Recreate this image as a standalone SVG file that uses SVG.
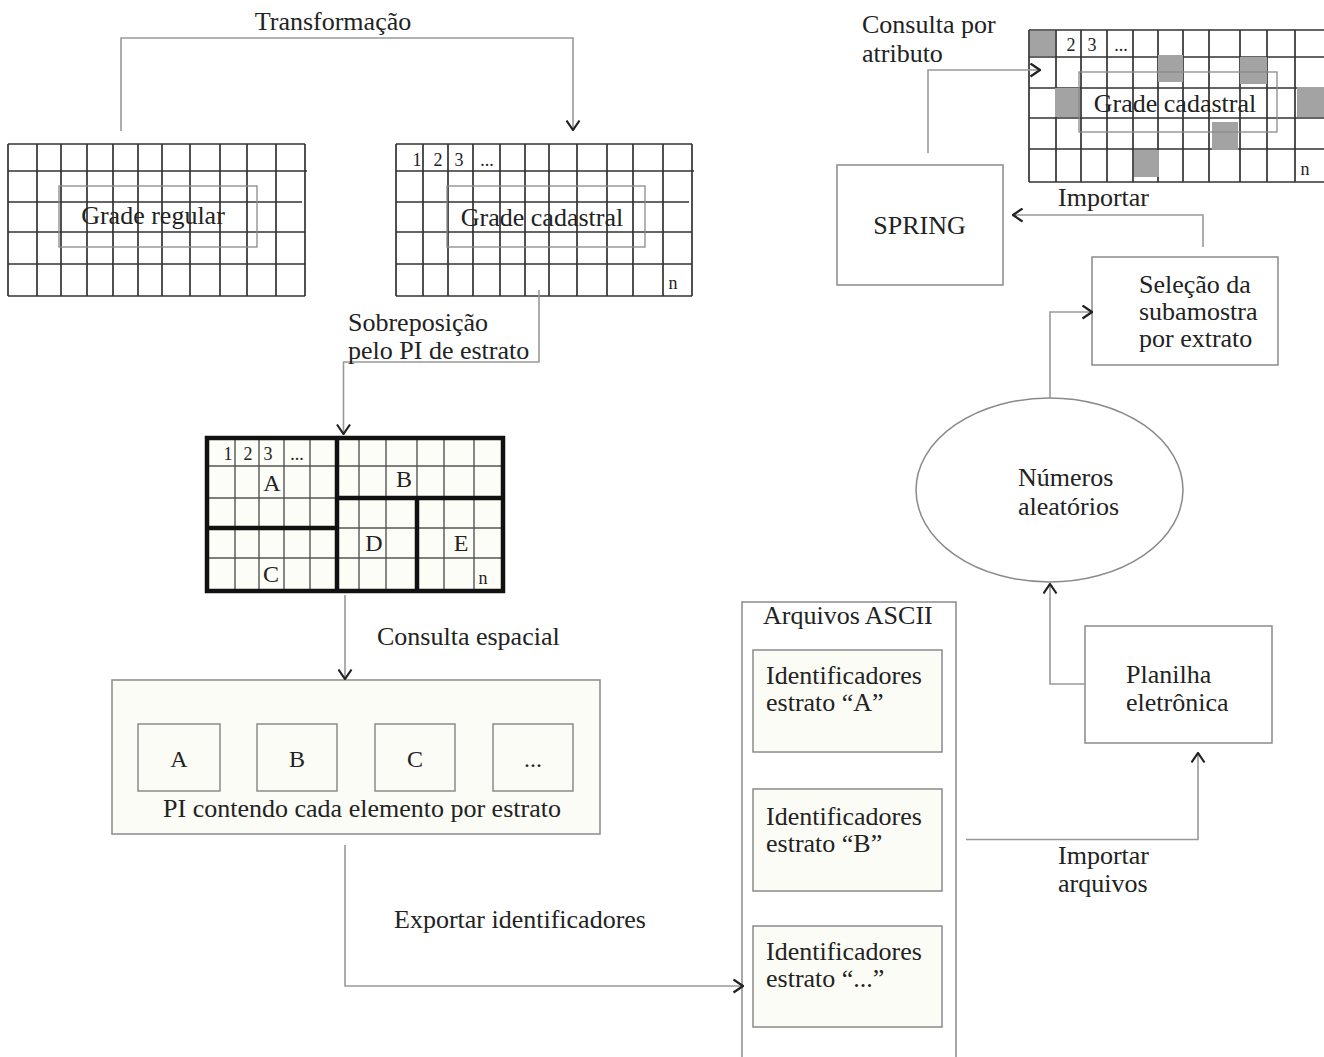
<svg xmlns="http://www.w3.org/2000/svg" width="1324" height="1057" viewBox="0 0 1324 1057">
<style>
text{font-family:"Liberation Serif","Times New Roman",serif;fill:#222;font-size:26px}
.num{font-size:18px}
.let{font-size:24px}
.mid{text-anchor:middle}
.grid{fill:none;stroke:#333;stroke-width:1.7}
.thin{fill:none;stroke:#555;stroke-width:1.4}
.thick{fill:none;stroke:#111;stroke-width:4.5}
.inner{fill:none;stroke:#8a8a8a;stroke-width:1.3}
.box{fill:#fff;stroke:#8a8a8a;stroke-width:1.5}
.cbox{fill:#fcfcf6;stroke:#8a8a8a;stroke-width:1.5}
.conn{fill:none;stroke:#999;stroke-width:1.6}
.gray{fill:#a3a3a3}
</style>
<defs>
<marker id="ah" viewBox="0 0 12 15" refX="11" refY="7.5" markerWidth="12" markerHeight="15" markerUnits="userSpaceOnUse" orient="auto">
<path d="M1.5,1 L11,7.5 L1.5,14" fill="none" stroke="#222" stroke-width="2.2"/>
</marker>
</defs>
<rect width="1324" height="1057" fill="#fff"/>

<g id="grade-regular">
<path class="grid" d="M8,144H305M8,171H307M8,202H302M8,232H305M8,264H305M8,296H305M8,144V296M37,144V296M61,144V296M87,144V296M113,144V296M138,144V296M162,144V296M190,144V296M220,144V296M247,144V296M276,144V296M305,144V296"/>
<rect class="inner" x="59" y="186" width="198" height="61"/>
<text class="mid" x="153" y="224">Grade regular</text>
</g>

<g id="grade-cadastral">
<path class="grid" d="M396,144H692M396,171H694M396,202H689M396,232H692M396,264H692M396,296H692M396,144V296M423,144V296M448,144V296M473,144V296M500,144V296M525,144V296M549,144V296M577,144V296M607,144V296M633,144V296M663,144V296M692,144V296"/>
<rect class="inner" x="447" y="186" width="198" height="61"/>
<text class="mid" x="542" y="226">Grade cadastral</text>
<text class="num mid" x="417" y="166">1</text>
<text class="num mid" x="438" y="166">2</text>
<text class="num mid" x="459" y="166">3</text>
<text class="num mid" x="487" y="166">...</text>
<text class="num mid" x="673" y="289">n</text>
</g>

<g id="grade-cadastral-selecionada">
<path class="grid" d="M1029,30H1324M1029,57H1324M1029,88H1324M1029,118H1324M1029,149H1324M1029,182H1324M1029,30V182M1056,30V182M1081,30V182M1107,30V182M1133,30V182M1158,30V182M1183,30V182M1209,30V182M1240,30V182M1267,30V182M1295,30V182"/>
<rect class="gray" x="1030" y="31" width="25" height="25"/>
<rect class="gray" x="1158" y="55" width="25" height="27"/>
<rect class="gray" x="1240" y="57" width="27" height="27"/>
<rect class="gray" x="1055" y="88" width="25" height="29"/>
<rect class="gray" x="1297" y="87" width="27" height="30"/>
<rect class="gray" x="1212" y="122" width="26" height="28"/>
<rect class="gray" x="1134" y="150" width="25" height="27"/>
<rect class="inner" x="1079" y="72" width="198" height="60"/>
<text class="mid" x="1175" y="112">Grade cadastral</text>
<text class="num mid" x="1071" y="51">2</text>
<text class="num mid" x="1092" y="51">3</text>
<text class="num mid" x="1121" y="51">...</text>
<text class="num mid" x="1305" y="175">n</text>
</g>

<g id="grade-estratos">
<rect x="207" y="438" width="296" height="153" fill="#fdfdf8"/>
<path class="thin" d="M207,466H503M207,498H337M337,528H503M207,558H503M235,438V591M259,438V591M284,438V591M310,438V591M359,438V591M386,438V591M444,438V591M474,438V591M417,438V498"/>
<path class="thick" d="M207,438H503V591H207ZM337,438V591M337,498H503M207,528H337M417,498V591"/>
<text class="num mid" x="228" y="460">1</text>
<text class="num mid" x="248" y="460">2</text>
<text class="num mid" x="268" y="460">3</text>
<text class="num mid" x="297" y="460">...</text>
<text class="let mid" x="272" y="491">A</text>
<text class="let mid" x="404" y="487">B</text>
<text class="let mid" x="374" y="551">D</text>
<text class="let mid" x="461" y="551">E</text>
<text class="let mid" x="271" y="582">C</text>
<text class="num mid" x="483" y="584">n</text>
</g>

<g id="pi-estratos">
<rect class="cbox" x="112" y="680" width="488" height="154"/>
<rect class="cbox" x="138" y="724" width="82" height="67"/>
<rect class="cbox" x="257" y="724" width="80" height="67"/>
<rect class="cbox" x="375" y="724" width="80" height="67"/>
<rect class="cbox" x="493" y="724" width="80" height="67"/>
<text class="let mid" x="179" y="767">A</text>
<text class="let mid" x="297" y="767">B</text>
<text class="let mid" x="415" y="767">C</text>
<text class="let mid" x="533" y="767">...</text>
<text class="mid" x="362" y="817">PI contendo cada elemento por estrato</text>
</g>

<g id="arquivos-ascii">
<path class="box" d="M742,1057V602H956V1057"/>
<text x="763" y="624">Arquivos ASCII</text>
<rect class="cbox" x="753" y="650" width="189" height="102"/>
<text x="766" y="684">Identificadores</text>
<text x="766" y="711">estrato “A”</text>
<rect class="cbox" x="753" y="789" width="189" height="102"/>
<text x="766" y="825">Identificadores</text>
<text x="766" y="852">estrato “B”</text>
<rect class="cbox" x="753" y="926" width="189" height="101"/>
<text x="766" y="960">Identificadores</text>
<text x="766" y="987">estrato “...”</text>
</g>

<g id="planilha">
<rect class="box" x="1085" y="626" width="187" height="117"/>
<text x="1126" y="683">Planilha</text>
<text x="1126" y="711">eletrônica</text>
</g>

<g id="numeros-aleatorios">
<ellipse class="box" cx="1049.5" cy="490" rx="133.5" ry="92"/>
<text x="1018" y="486">Números</text>
<text x="1018" y="515">aleatórios</text>
</g>

<g id="selecao">
<rect class="box" x="1092" y="257" width="186" height="108"/>
<text x="1139" y="293">Seleção da</text>
<text x="1139" y="320">subamostra</text>
<text x="1139" y="347">por extrato</text>
</g>

<g id="spring">
<rect class="box" x="837" y="165" width="166" height="120"/>
<text class="mid" x="919.5" y="234">SPRING</text>
</g>

<g id="connectors">
<path class="conn" d="M121,131V38H573V130" marker-end="url(#ah)"/>
<path class="conn" d="M539,290V362H343.5V434" marker-end="url(#ah)"/>
<path class="conn" d="M345,595V679" marker-end="url(#ah)"/>
<path class="conn" d="M345,845V986H743" marker-end="url(#ah)"/>
<path class="conn" d="M966,839.5H1198V753" marker-end="url(#ah)"/>
<path class="conn" d="M1085,684H1050V584" marker-end="url(#ah)"/>
<path class="conn" d="M1050,398V312H1092" marker-end="url(#ah)"/>
<path class="conn" d="M1203,247V215H1013" marker-end="url(#ah)"/>
<path class="conn" d="M928,153V70H1040" marker-end="url(#ah)"/>
</g>

<g id="labels">
<text class="mid" x="333" y="30">Transformação</text>
<text x="348" y="331">Sobreposição</text>
<text x="348" y="359">pelo PI de estrato</text>
<text x="377" y="645">Consulta espacial</text>
<text x="394" y="928">Exportar identificadores</text>
<text x="1058" y="864">Importar</text>
<text x="1058" y="892">arquivos</text>
<text x="1058" y="206">Importar</text>
<text x="862" y="33">Consulta por</text>
<text x="862" y="62">atributo</text>
</g>
</svg>
